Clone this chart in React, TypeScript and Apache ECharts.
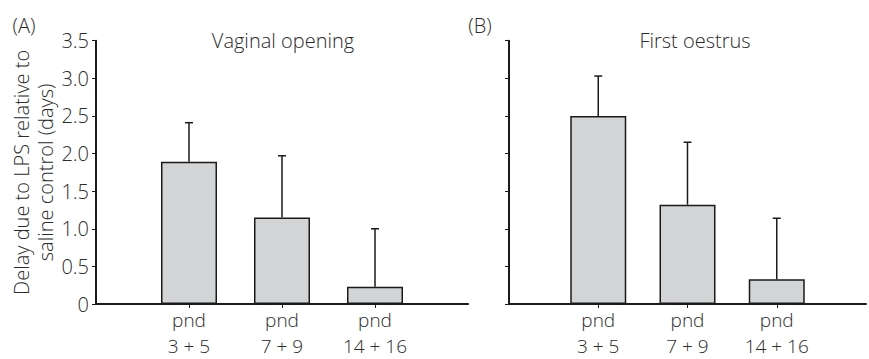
import React, { useEffect, useRef } from "react";
import * as echarts from "echarts";

const categories = ["", "pnd\n3 + 5", "pnd\n7 + 9", "pnd\n14 + 16", ""];
const vaginalMeans = [null, 1.89, 1.15, 0.23, null];
const vaginalErrTop = [null, 2.41, 1.97, 1.0, null];
const oestrusMeans = [null, 2.5, 1.32, 0.33, null];
const oestrusErrTop = [null, 3.03, 2.15, 1.14, null];
const panelTitles = ["Vaginal opening", "First oestrus"];
const panelLetters = ["(A)", "(B)"];
const yAxisName = "Delay due to LPS relative to\nsaline control (days)";

const FONT = "'Open Sans', 'DejaVu Sans', sans-serif";
const TEXT = "#2b2b2b";
const AXIS = "#1a1a1a";
const FS = 20;

export default function App() {
  const ref = useRef<HTMLDivElement>(null);
  useEffect(() => {
    if (!ref.current) return;
    const chart = echarts.init(ref.current, null, { renderer: "svg" });
    const grids = [
      { left: 96, top: 40.7, width: 372, height: 266.3 },
      { left: 509, top: 40.7, width: 372, height: 266.3 },
    ];
    const xAxis = grids.map((_, i) => ({
      type: "category",
      gridIndex: i,
      data: categories,
      boundaryGap: false,
      axisLine: { lineStyle: { color: AXIS, width: 2 } },
      axisTick: {
        show: true,
        length: 4,
        interval: (idx: number) => idx >= 1 && idx <= 3,
        lineStyle: { color: AXIS, width: 1 },
      },
      axisLabel: {
        interval: 0,
        margin: 3,
        color: TEXT,
        fontFamily: FONT,
        fontWeight: 300,
        fontSize: 19,
        lineHeight: 26,
      },
      splitLine: { show: false },
    }));
    const yAxis = grids.map((_, i) => ({
      type: "value",
      gridIndex: i,
      min: 0,
      max: 3.5,
      interval: 0.5,
      name: i === 0 ? yAxisName : "",
      nameLocation: "middle",
      nameRotate: 90,
      nameGap: 37,
      nameTextStyle: {
        color: TEXT,
        fontFamily: FONT,
        fontWeight: 300,
        fontSize: FS,
        lineHeight: 24,
      },
      axisLine: { show: true, lineStyle: { color: AXIS, width: 2 } },
      axisTick: { show: true, length: 4, lineStyle: { color: AXIS, width: 1 } },
      axisLabel: {
        show: i === 0,
        margin: 7,
        color: TEXT,
        fontFamily: FONT,
        fontWeight: 300,
        fontSize: FS,
        formatter: (v: number) => (v === 0 ? "0" : v.toFixed(1)),
      },
      splitLine: { show: false },
    }));
    const means = [vaginalMeans, oestrusMeans];
    const errs = [vaginalErrTop, oestrusErrTop];
    const series: any[] = [];
    means.forEach((m, i) => {
      series.push({
        type: "bar",
        xAxisIndex: i,
        yAxisIndex: i,
        data: m.map((v) => (v === null ? "-" : v)),
        barWidth: 56,
        itemStyle: { color: "#d3d4d6", borderColor: AXIS, borderWidth: 1.5 },
        z: 2,
      });
      series.push({
        type: "custom",
        xAxisIndex: i,
        yAxisIndex: i,
        data: m
          .map((v, k) => (v === null ? null : [k, v, errs[i][k]]))
          .filter((d) => d !== null),
        renderItem: (params: any, api: any) => {
          const k = api.value(0);
          const base = api.coord([k, api.value(1)]);
          const top = api.coord([k, api.value(2)]);
          const style = { stroke: AXIS, lineWidth: 1.5 };
          return {
            type: "group",
            children: [
              { type: "line", shape: { x1: base[0], y1: base[1], x2: top[0], y2: top[1] }, style },
              { type: "line", shape: { x1: top[0] - 4, y1: top[1], x2: top[0] + 4, y2: top[1] }, style },
            ],
          };
        },
        z: 3,
      });
    });
    const tfont = `300 ${FS}px ${FONT}`;
    chart.setOption({
      animation: false,
      backgroundColor: "#ffffff",
      grid: grids,
      xAxis,
      yAxis,
      series,
      graphic: [
        { type: "text", x: 24, y: 25, style: { text: panelLetters[0], fill: TEXT, font: tfont, align: "center", verticalAlign: "middle" } },
        { type: "text", x: 480, y: 25, style: { text: panelLetters[1], fill: TEXT, font: tfont, align: "center", verticalAlign: "middle" } },
        { type: "text", x: 283, y: 40, style: { text: panelTitles[0], fill: TEXT, font: tfont, align: "center", verticalAlign: "middle" } },
        { type: "text", x: 695, y: 40, style: { text: panelTitles[1], fill: TEXT, font: tfont, align: "center", verticalAlign: "middle" } },
      ],
    });
    return () => chart.dispose();
  }, []);
  return (
    <div
      ref={ref}
      style={{ position: "absolute", left: 0, top: 0, width: 869, height: 359 }}
    />
  );
}
